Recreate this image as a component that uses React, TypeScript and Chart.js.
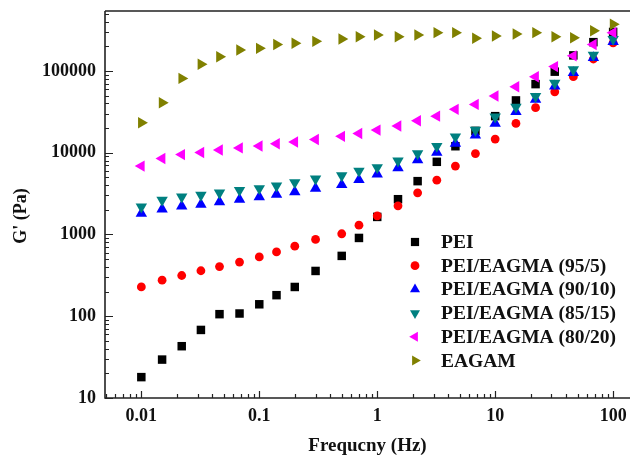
import React, { useEffect, useRef } from 'react';
import { Chart, registerables } from 'chart.js';
import { drawPoint } from 'chart.js/helpers';

Chart.register(...registerables);

const FONT = "'Liberation Serif', 'Times New Roman', serif";

const freq = [0.01, 0.015, 0.022, 0.032, 0.046, 0.068, 0.1, 0.14, 0.2, 0.3, 0.5, 0.7, 1, 1.5, 2.2, 3.2, 4.6, 6.8, 10, 15, 22, 32, 46, 68, 100];

const pei = [18, 29.5, 43, 68, 106, 108, 140, 181, 228, 358, 547, 907, 1640, 2700, 4490, 7740, 12000, 18500, 28000, 43600, 69000, 98000, 155000, 225000, 300000];
const pei95 = [228, 276, 315, 360, 405, 460, 532, 612, 720, 870, 1020, 1300, 1690, 2240, 3230, 4620, 6860, 9760, 14700, 22800, 35500, 55600, 85000, 140000, 220000];
const pei90 = [1810, 2040, 2220, 2330, 2505, 2680, 2885, 3090, 3320, 3655, 4050, 4670, 5470, 6530, 8130, 10070, 13000, 16400, 22800, 31700, 44900, 65300, 95000, 145000, 228000];
const pei85 = [2180, 2630, 2880, 3030, 3230, 3480, 3655, 3935, 4330, 4780, 5250, 5980, 6600, 7950, 9760, 12000, 15700, 18900, 27500, 36300, 49000, 70900, 104000, 157000, 244000];
const pei80 = [6860, 8500, 9480, 10050, 10780, 11450, 12100, 12850, 13550, 14500, 15850, 17200, 18900, 21200, 24600, 28000, 33900, 39000, 49300, 64100, 85000, 113000, 153000, 211000, 294000];
const eagam = [23200, 40800, 81100, 121000, 149000, 180000, 189000, 211000, 218000, 230000, 246000, 262000, 275000, 262000, 275000, 294000, 294000, 251000, 267000, 283000, 294000, 262000, 255000, 310000, 372000];

const labels = ['PEI', 'PEI/EAGMA (95/5)', 'PEI/EAGMA (90/10)', 'PEI/EAGMA (85/15)', 'PEI/EAGMA (80/20)', 'EAGAM'];
const seriesValues = [pei, pei95, pei90, pei85, pei80, eagam];
const colors = ['#000000', '#ff0000', '#0000ff', '#008080', '#ff00ff', '#808000'];
const styles = ['rect', 'circle', 'triangle', 'triangle', 'triangle', 'triangle'];
const rotations = [0, 0, 0, 180, -90, 90];
const radii = [6, 4.4, 6.6, 6.6, 6.6, 6.6];

const xTicks = [0.01, 0.1, 1, 10, 100];
const yTicks = [10, 100, 1000, 10000, 100000];

const frame = {
  id: 'frame',
  beforeDatasetsDraw(chart: any) {
    const { ctx, chartArea: a, scales } = chart;
    const xs = scales.x;
    const ys = scales.y;
    ctx.save();
    ctx.strokeStyle = '#222';
    ctx.lineWidth = 1.6;
    ctx.beginPath();
    ctx.moveTo(a.left, a.top);
    ctx.lineTo(a.left, a.bottom);
    ctx.lineTo(a.right, a.bottom);
    ctx.moveTo(a.left, a.top);
    ctx.lineTo(a.right, a.top);
    ctx.stroke();
    ctx.lineWidth = 1.2;
    ctx.beginPath();
    const xDecades = [xTicks[0] / 10, ...xTicks];
    xDecades.forEach((d) => {
      for (let m = 1; m <= 9; m++) {
        const v = d * m;
        if (v < xs.min || v > xs.max) continue;
        const px = Math.round(xs.getPixelForValue(v)) + 0.5;
        const len = m === 1 ? 7 : 4;
        ctx.moveTo(px, a.bottom);
        ctx.lineTo(px, a.bottom - len);
      }
    });
    yTicks.forEach((d) => {
      for (let m = 1; m <= 9; m++) {
        const v = d * m;
        if (v < ys.min || v > ys.max) continue;
        const py = Math.round(ys.getPixelForValue(v)) + 0.5;
        const len = m === 1 ? 8 : 4;
        ctx.moveTo(a.left, py);
        ctx.lineTo(a.left + len, py);
      }
    });
    ctx.stroke();
    // y title
    ctx.fillStyle = '#111';
    ctx.font = `bold 18px ${FONT}`;
    ctx.textAlign = 'center';
    ctx.textBaseline = 'middle';
    ctx.translate(21, 216);
    ctx.rotate(-Math.PI / 2);
    ctx.fillText("G' (Pa)", 0, 0);
    ctx.restore();
  },
  afterDraw(chart: any) {
    const { ctx } = chart;
    ctx.save();
    const mx = 415;
    const tx = 441;
    const y0 = 242;
    const dy = 23.7;
    labels.forEach((lab, i) => {
      const y = y0 + i * dy;
      ctx.fillStyle = colors[i];
      ctx.strokeStyle = colors[i];
      drawPoint(ctx, { pointStyle: styles[i], rotation: rotations[i], radius: i === 1 ? 4.4 : 5.8, borderWidth: 0 }, mx, y);
      ctx.fillStyle = '#111';
      ctx.font = `bold 19.5px ${FONT}`;
      ctx.textAlign = 'left';
      ctx.textBaseline = 'middle';
      ctx.fillText(lab, tx, y + 1);
    });
    ctx.restore();
  },
};

export default function App() {
  const ref = useRef<HTMLCanvasElement>(null);
  useEffect(() => {
    const datasets = seriesValues.map((vals, i) => ({
      label: labels[i],
      data: freq.map((f, j) => ({ x: f, y: vals[j] })),
      pointStyle: styles[i],
      rotation: rotations[i],
      pointRadius: radii[i],
      backgroundColor: colors[i],
      borderColor: colors[i],
      borderWidth: 0,
      showLine: false,
      order: seriesValues.length - i,
    }));
    const tickFont = { family: FONT, size: 18, weight: 'bold' as const };
    const chart = new Chart(ref.current!, {
      type: 'scatter',
      data: { datasets },
      options: {
        responsive: false,
        animation: false,
        layout: { autoPadding: false, padding: { top: 11, right: 0, left: 0, bottom: 0 } },
        plugins: { legend: { display: false }, tooltip: { enabled: false } },
        scales: {
          x: {
            type: 'logarithmic',
            min: 0.00492,
            max: 139,
            grid: { display: false, drawTicks: false },
            border: { display: false },
            ticks: { font: tickFont, color: '#111', padding: 8, autoSkip: false, maxRotation: 0, callback: (v: any) => String(v) },
            afterBuildTicks: (s: any) => { s.ticks = xTicks.map((v) => ({ value: v })); },
            afterFit: (s: any) => { s.height = 58; s.paddingLeft = 0; s.paddingRight = 0; },
            title: { display: true, text: 'Frequcny (Hz)', font: { family: FONT, size: 19, weight: 'bold', lineHeight: 1.0 }, color: '#111', padding: { top: 0, bottom: 0 } },
          },
          y: {
            type: 'logarithmic',
            min: 10,
            max: 541000,
            grid: { display: false, drawTicks: false },
            border: { display: false },
            ticks: { font: tickFont, color: '#111', padding: 9, autoSkip: false, callback: (v: any) => String(v) },
            afterBuildTicks: (s: any) => { s.ticks = yTicks.map((v) => ({ value: v })); },
            afterFit: (s: any) => { s.width = 105; s.paddingTop = 0; s.paddingBottom = 0; },
          },
        },
      },
      plugins: [frame],
    } as any);
    return () => chart.destroy();
  }, []);
  return (
    <div style={{ position: 'fixed', left: 0, top: 0, width: 630, height: 456, overflow: 'hidden', background: '#fff' }}>
      <canvas ref={ref} width={630} height={456} style={{ display: 'block', width: 630, height: 456 }} />
    </div>
  );
}
